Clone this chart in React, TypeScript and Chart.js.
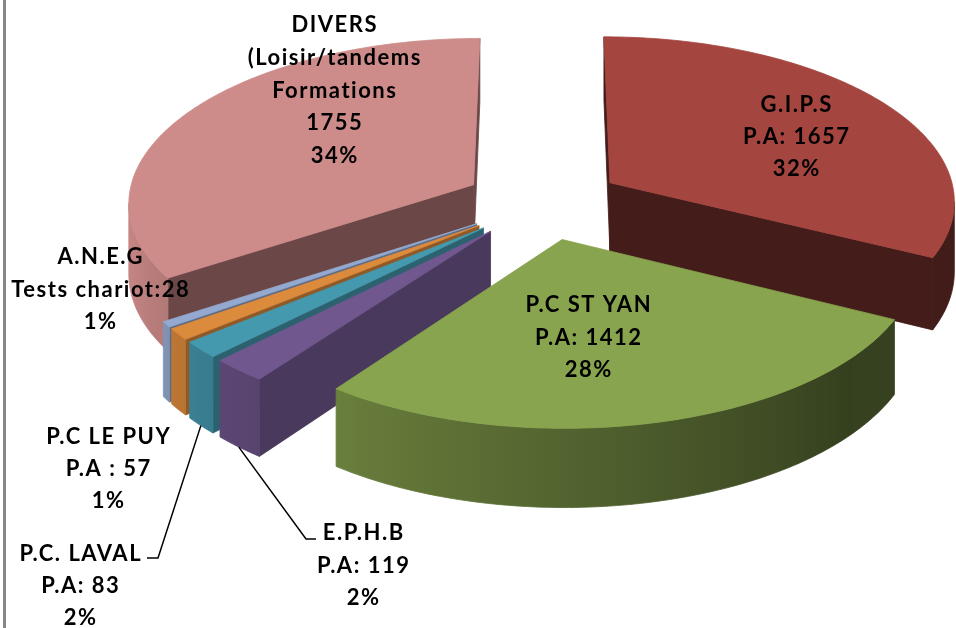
import React, { useEffect, useRef } from "react";
import { Chart, registerables } from "chart.js";

Chart.register(...registerables);

// ---------- data ----------
const categories = ["G.I.P.S", "P.C ST YAN", "E.P.H.B", "P.C. LAVAL", "P.C LE PUY", "A.N.E.G", "DIVERS"];
const categoryNotes = ["", "", "", "", "", "", "(Loisir/tandems\nFormations"];
const valuePrefixes = ["P.A: ", "P.A: ", "P.A: ", "P.A: ", "P.A : ", "Tests chariot:", ""];
const values = [1657, 1412, 119, 83, 57, 28, 1755];

// ---------- style ----------
const topColors = ["#A5453F", "#88A44E", "#70578E", "#4499AF", "#DC8A3C", "#93A9D0", "#CD8B89"];
const radialShade = [0.41, 0.4, 0.65, 0.64, 0.65, 0.63, 0.52];
const FONT = 'bold 22px Lato, "Open Sans", sans-serif';
const LETTER_SPACING = "1.5px";

const EXPLODE = 0.23;
const PERSP_Y = 0.095;
const PERSP_X = 0.1;

type Pt = [number, number];

function hexToRgb(h: string): number[] {
  const s = h.replace("#", "");
  return [0, 2, 4].map((k) => parseInt(s.slice(k, k + 2), 16));
}
function shade(h: string, f: number): string {
  const [r, g, b] = hexToRgb(h);
  const c = (x: number) => Math.max(0, Math.min(255, Math.round(x * f)));
  return `rgb(${c(r)},${c(g)},${c(b)})`;
}
function outerShade(deg: number): number {
  const d = ((deg % 360) + 360) % 360;
  if (d < 130) return 0.4;
  return Math.min(0.95, 0.38 + (0.55 * (d - 130)) / 120);
}
function signedArea(p: Pt[]): number {
  let s = 0;
  for (let i = 0; i < p.length; i++) {
    const a = p[i], b = p[(i + 1) % p.length];
    s += a[0] * b[1] - b[0] * a[1];
  }
  return s;
}
function fillPoly(ctx: CanvasRenderingContext2D, p: Pt[], style: any) {
  ctx.beginPath();
  ctx.moveTo(p[0][0], p[0][1]);
  for (let i = 1; i < p.length; i++) ctx.lineTo(p[i][0], p[i][1]);
  ctx.closePath();
  ctx.fillStyle = style;
  ctx.strokeStyle = style;
  ctx.lineWidth = 0.8;
  ctx.lineJoin = "round";
  ctx.fill();
  ctx.stroke();
}

// label layout (pixel positions of Excel's manually placed data labels)
const labelLayout: any[] = [
  { x: 796, y: 104, lh: 32 },
  { x: 588, y: 304, lh: 32.5 },
  { x: 363, y: 532, lh: 32.5, elbow: [306, 539], end: [316, 539] },
  { x: 80, y: 553, lh: 32, elbow: [158, 558], end: [147, 558] },
  { x: 108, y: 436, lh: 32 },
  { x: 100, y: 256, lh: 32.5 },
  { x: 334, y: 24, lh: 32.8 },
];

function geometry(chart: any) {
  const a = chart.chartArea;
  const W = a.right - a.left, H = a.bottom - a.top;
  const cx = a.left + W * 0.568, cy = a.top + H * 0.322;
  const A = W * 0.362, B = H * 0.26, C = H * 0.1115;
  const proj = (u: number, v: number, z: number): Pt => {
    const sy = 1 / (1 + PERSP_Y * v), sx = 1 / (1 + PERSP_X * v);
    return [cx + u * A * sx, cy - v * B * sy + z * C * sy];
  };
  const meta = chart.getDatasetMeta(0);
  const slices = meta.data.map((arc: any, i: number) => {
    const p = arc.getProps(["startAngle", "endAngle"], true);
    const ts = p.startAngle + Math.PI / 2, te = p.endAngle + Math.PI / 2;
    const mid = (ts + te) / 2;
    return { i, ts, te, mid, ou: EXPLODE * Math.sin(mid), ov: EXPLODE * Math.cos(mid) };
  });
  return { proj, slices };
}

const pie3d = {
  id: "pie3d",
  beforeDatasetsDraw(chart: any) {
    const ctx: CanvasRenderingContext2D = chart.ctx;
    const ds = chart.data.datasets[0];
    const { proj, slices } = geometry(chart);
    const order = [...slices].sort((p: any, q: any) => q.ov - p.ov);
    ctx.save();
    for (const s of order) {
      const color: string = ds.backgroundColor[s.i];
      const pt = (t: number, z: number) => proj(s.ou + Math.sin(t), s.ov + Math.cos(t), z);
      const ap = (z: number) => proj(s.ou, s.ov, z);
      const n = Math.max(2, Math.ceil((s.te - s.ts) / (Math.PI / 180)));
      const ang: number[] = [];
      for (let k = 0; k <= n; k++) ang.push(s.ts + ((s.te - s.ts) * k) / n);

      const fs: Pt[] = [pt(s.ts, 1), ap(1), ap(0), pt(s.ts, 0)];
      if (signedArea(fs) < 0) fillPoly(ctx, fs, shade(color, radialShade[s.i]));
      const fe: Pt[] = [ap(1), pt(s.te, 1), pt(s.te, 0), ap(0)];
      if (signedArea(fe) < 0) fillPoly(ctx, fe, shade(color, radialShade[s.i]));

      // outer curved face, visible runs
      const vis = (j: number) =>
        signedArea([pt(ang[j + 1], 1), pt(ang[j], 1), pt(ang[j], 0), pt(ang[j + 1], 0)]) < 0;
      let k = 0;
      while (k < n) {
        if (!vis(k)) { k++; continue; }
        let k1 = k;
        while (k1 + 1 < n && vis(k1 + 1)) k1++;
        const topPts: Pt[] = [], botPts: Pt[] = [];
        for (let j = k; j <= k1 + 1; j++) { topPts.push(pt(ang[j], 0)); botPts.push(pt(ang[j], 1)); }
        const poly = [...topPts, ...botPts.reverse()];
        const x0 = topPts[0][0], x1 = topPts[topPts.length - 1][0];
        let style: any;
        if (Math.abs(x1 - x0) > 1) {
          const g = ctx.createLinearGradient(x0, 0, x1, 0);
          for (let j = k; j <= k1 + 1; j++) {
            const x = pt(ang[j], 0)[0];
            const off = Math.max(0, Math.min(1, (x - x0) / (x1 - x0)));
            g.addColorStop(off, shade(color, outerShade((ang[j] * 180) / Math.PI)));
          }
          style = g;
        } else {
          style = shade(color, outerShade(((ang[k] + ang[k1 + 1]) / 2) * 180 / Math.PI));
        }
        fillPoly(ctx, poly, style);
        k = k1 + 1;
      }

      const top: Pt[] = [ap(0), ...ang.slice().reverse().map((t) => pt(t, 0))];
      fillPoly(ctx, top, color);
    }
    ctx.restore();
    return false;
  },
  afterDraw(chart: any) {
    const ctx: CanvasRenderingContext2D = chart.ctx;
    const { proj, slices } = geometry(chart);
    const data: number[] = chart.data.datasets[0].data;
    const total = data.reduce((a, b) => a + b, 0);
    ctx.save();
    // frame line on the left
    ctx.fillStyle = "#878787";
    ctx.fillRect(3, 0, 3, chart.height);

    slices.forEach((s: any) => {
      const i = s.i;
      const L = labelLayout[i];
      if (L.elbow) {
        const anchor = proj(s.ou + Math.sin(s.mid), s.ov + Math.cos(s.mid), 1);
        ctx.beginPath();
        ctx.moveTo(anchor[0], anchor[1]);
        ctx.lineTo(L.elbow[0], L.elbow[1]);
        ctx.lineTo(L.end[0], L.end[1]);
        ctx.strokeStyle = "#000";
        ctx.lineWidth = 1.5;
        ctx.stroke();
      }
    });

    ctx.font = FONT;
    (ctx as any).letterSpacing = LETTER_SPACING;
    ctx.fillStyle = "#000";
    ctx.textAlign = "center";
    ctx.textBaseline = "alphabetic";
    slices.forEach((s: any) => {
      const i = s.i;
      const L = labelLayout[i];
      const lines: string[] = [categories[i]];
      if (categoryNotes[i]) lines.push(...categoryNotes[i].split("\n"));
      lines.push(valuePrefixes[i] + data[i]);
      lines.push(Math.round((data[i] / total) * 100) + "%");
      lines.forEach((t, j) => ctx.fillText(t, L.x + 0.75, L.y + j * L.lh + 8));
    });
    ctx.restore();
  },
};

export default function App() {
  const ref = useRef<HTMLCanvasElement>(null);
  useEffect(() => {
    if (!ref.current) return;
    const chart = new Chart(ref.current, {
      type: "pie",
      data: {
        labels: categories,
        datasets: [{ data: values, backgroundColor: topColors, borderWidth: 0 }],
      },
      options: {
        responsive: false,
        animation: false,
        layout: { padding: 0 },
        plugins: { legend: { display: false }, tooltip: { enabled: false } },
        events: [],
      },
      plugins: [pie3d],
    });
    return () => chart.destroy();
  }, []);
  return (
    <div style={{ position: "absolute", left: 0, top: 0, width: 956, height: 628, background: "#fff" }}>
      <canvas ref={ref} width={956} height={628} style={{ display: "block", width: 956, height: 628 }} />
    </div>
  );
}
